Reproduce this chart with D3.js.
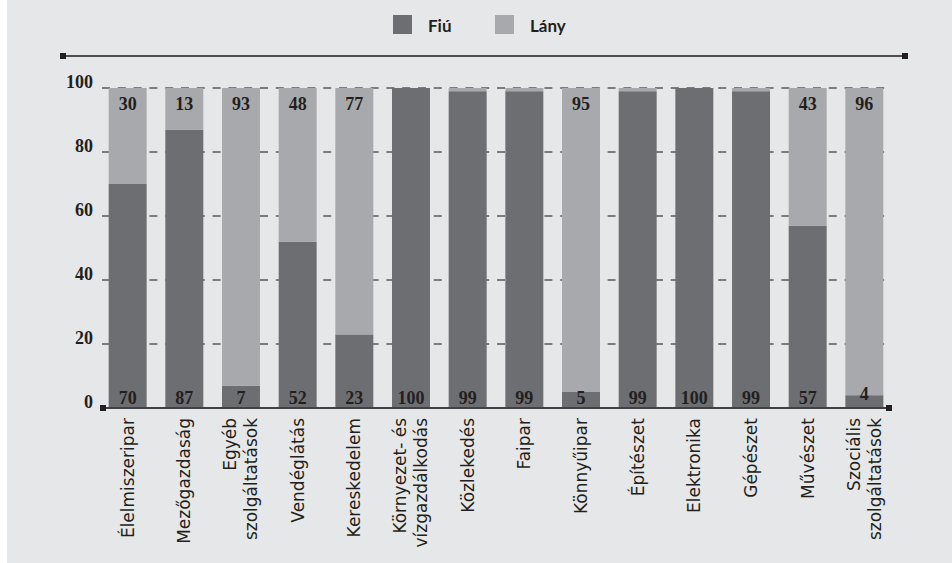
<!DOCTYPE html>
<html>
    <head>
        <meta charset="utf-8">
        <style type="text/css">
            body { margin: 0; background: #ffffff; overflow: hidden; }
            svg { display: block; }
        </style>
        <title>Fiú / Lány arány ágazatonként</title>
    </head>
    <body>
        <svg id='svgZone'></svg>
        <script src="https://cdn.jsdelivr.net/npm/d3@7"></script>
        <script>

/*========== Data ==========*/

var categories = ['Élelmiszeripar', 'Mezőgazdaság', 'Egyéb|szolgáltatások', 'Vendéglátás',
                  'Kereskedelem', 'Környezet- és|vízgazdálkodás', 'Közlekedés', 'Faipar',
                  'Könnyűipar', 'Építészet', 'Elektronika', 'Gépészet', 'Művészet',
                  'Szociális|szolgáltatások'];
var fiu  = [70, 87, 7, 52, 23, 100, 99, 99, 5, 99, 100, 99, 57, 4];
var lany = [30, 13, 93, 48, 77, 0, 1, 1, 95, 1, 0, 1, 43, 96];
var yTicks = [0, 20, 40, 60, 80, 100];
var seriesNames = ['Fiú', 'Lány'];

/*========== Constants ==========*/

var W = 952, H = 563;
var FIU_COLOR = '#6d6e71';
var LANY_COLOR = '#a7a9ac';
var TEXT_COLOR = '#231f20';
var NUM_FONT = '"Liberation Serif", serif';
var LEGEND_FONT = 'Lato, sans-serif';
var LABEL_FONT = '"DejaVu Sans", sans-serif';

var svg = d3.select('#svgZone')
    .attr('width', W)
    .attr('height', H);

// Background panel (thin white strip on the left)
svg.append('rect')
    .attr('x', 7).attr('y', 0)
    .attr('width', W - 7).attr('height', H)
    .attr('fill', '#e6e7e8');

// Scales
var x = d3.scaleBand()
    .domain(categories)
    .range([103, 889])
    .paddingInner(0.33)
    .paddingOuter(0.1);
var y = d3.scaleLinear()
    .domain([0, 100])
    .range([408, 88]);

// ============ Legend ============
var legendX = [393, 495];
seriesNames.forEach(function(name, i) {
    svg.append('rect')
        .attr('x', legendX[i]).attr('y', 15)
        .attr('width', 19).attr('height', 19)
        .attr('fill', i == 0 ? FIU_COLOR : LANY_COLOR);
    svg.append('text')
        .text(name)
        .attr('x', legendX[i] + 35)
        .attr('y', 32)
        .attr('font-family', LEGEND_FONT)
        .attr('font-weight', 'bold')
        .attr('font-size', 17)
        .attr('fill', TEXT_COLOR);
});

// Top rule with square end caps
svg.append('line')
    .attr('x1', 63).attr('x2', 905)
    .attr('y1', 56).attr('y2', 56)
    .attr('stroke', '#4d4d4f')
    .attr('stroke-width', 2);
[63, 905].forEach(function(px) {
    svg.append('rect')
        .attr('x', px - 3).attr('y', 53)
        .attr('width', 6).attr('height', 6)
        .attr('fill', TEXT_COLOR);
});

// ============ Grid + y labels ============
yTicks.filter(function(d) { return d > 0; }).forEach(function(d) {
    svg.append('line')
        .attr('x1', 102).attr('x2', 892)
        .attr('y1', y(d)).attr('y2', y(d))
        .attr('stroke', '#58595b')
        .attr('stroke-width', 1.5)
        .attr('stroke-dasharray', '8,7.8');
});
svg.selectAll('.ytick')
    .data(yTicks)
    .enter()
    .append('text')
        .attr('class', 'ytick')
        .text(function(d) { return d; })
        .attr('x', 93)
        .attr('y', function(d) { return y(d); })
        .attr('text-anchor', 'end')
        .attr('font-family', NUM_FONT)
        .attr('font-weight', 'bold')
        .attr('font-size', 18)
        .attr('fill', TEXT_COLOR);

// ============ Stacked bars ============
var rows = categories.map(function(c, i) { return { cat: c, fiu: fiu[i], lany: lany[i] }; });

svg.selectAll('.barFiu')
    .data(rows)
    .enter()
    .append('rect')
        .attr('x', function(d) { return x(d.cat); })
        .attr('y', function(d) { return y(d.fiu); })
        .attr('width', x.bandwidth())
        .attr('height', function(d) { return y(0) - y(d.fiu); })
        .attr('fill', FIU_COLOR);
svg.selectAll('.barLany')
    .data(rows)
    .enter()
    .append('rect')
        .attr('x', function(d) { return x(d.cat); })
        .attr('y', function(d) { return y(d.fiu + d.lany); })
        .attr('width', x.bandwidth())
        .attr('height', function(d) { return y(d.fiu) - y(d.fiu + d.lany); })
        .attr('fill', LANY_COLOR);

// Value labels: Fiú at the bottom, Lány near the top
svg.selectAll('.valFiu')
    .data(rows)
    .enter()
    .append('text')
        .text(function(d) { return d.fiu; })
        .attr('x', function(d) { return x(d.cat) + x.bandwidth() / 2; })
        .attr('y', function(d) { return d.fiu < 5 ? y(0) - 8 : y(0) - 4.5; })
        .attr('text-anchor', 'middle')
        .attr('font-family', NUM_FONT)
        .attr('font-weight', 'bold')
        .attr('font-size', 18)
        .attr('fill', TEXT_COLOR);
svg.selectAll('.valLany')
    .data(rows.filter(function(d) { return d.lany >= 5; }))
    .enter()
    .append('text')
        .text(function(d) { return d.lany; })
        .attr('x', function(d) { return x(d.cat) + x.bandwidth() / 2; })
        .attr('y', y(100) + 22)
        .attr('text-anchor', 'middle')
        .attr('font-family', NUM_FONT)
        .attr('font-weight', 'bold')
        .attr('font-size', 18)
        .attr('fill', TEXT_COLOR);

// ============ x axis ============
svg.append('line')
    .attr('x1', 103).attr('x2', 889)
    .attr('y1', y(0)).attr('y2', y(0))
    .attr('stroke', '#414042')
    .attr('stroke-width', 2);
[103, 889].forEach(function(px) {
    svg.append('rect')
        .attr('x', px - 3).attr('y', y(0) - 3)
        .attr('width', 6).attr('height', 6)
        .attr('fill', TEXT_COLOR);
});

// Rotated category labels (two-line ones split on '|')
rows.forEach(function(d) {
    var lines = d.cat.split('|');
    var cx = x(d.cat) + x.bandwidth() / 2;
    lines.forEach(function(line, j) {
        var off = (j - (lines.length - 1) / 2) * 21;
        svg.append('text')
            .text(line)
            .attr('transform', `translate(${cx + off + 6}, 418) rotate(-90)`)
            .attr('text-anchor', 'end')
            .attr('font-family', LABEL_FONT)
            .attr('font-size', 17)
            .attr('fill', TEXT_COLOR);
    });
});

        </script>
    </body>
</html>
